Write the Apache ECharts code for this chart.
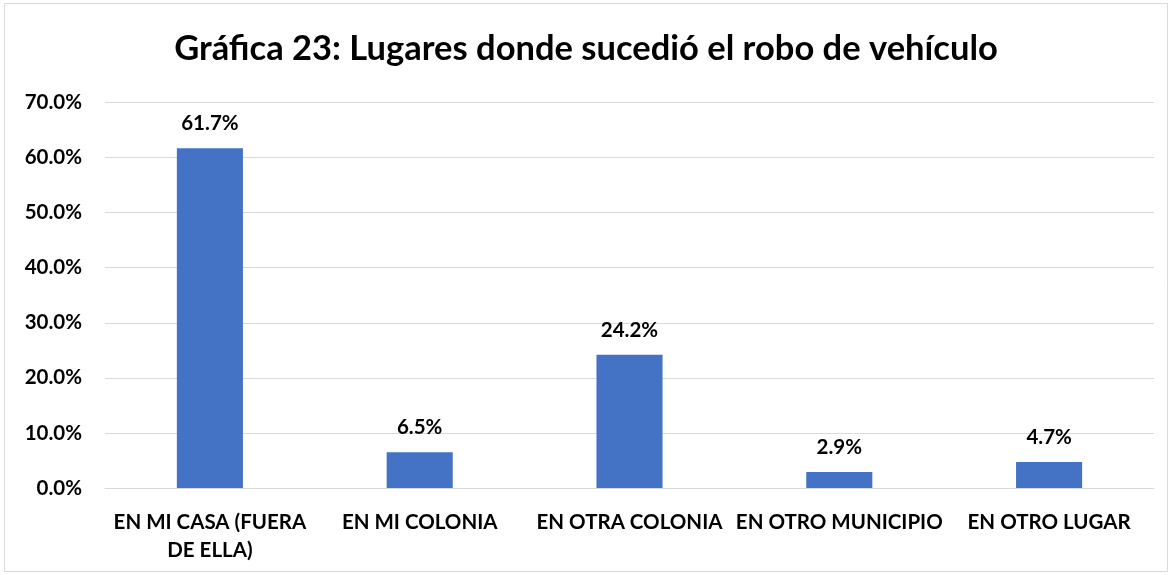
<!DOCTYPE html>
<html>
<head>
<meta charset="utf-8">
<script src="https://cdn.jsdelivr.net/npm/echarts@6/dist/echarts.min.js"></script>
<style>
html,body{margin:0;padding:0;background:#fff;}
#chart{width:1172px;height:575px;}
</style>
</head>
<body>
<div id="chart"></div>
<script>
const title = "Gráfica 23: Lugares donde sucedió el robo de vehículo";
const categories = ["EN MI CASA (FUERA\nDE ELLA)", "EN MI COLONIA", "EN OTRA COLONIA", "EN OTRO MUNICIPIO", "EN OTRO LUGAR"];
const values = [61.7, 6.5, 24.2, 2.9, 4.7];
const yTicks = [0, 10, 20, 30, 40, 50, 60, 70];

const FONT = "Lato, 'Open Sans', sans-serif";
const chart = echarts.init(document.getElementById('chart'), null, {renderer: 'canvas'});
chart.setOption({
  animation: false,
  backgroundColor: '#fff',
  graphic: [{
    type: 'rect',
    shape: {x: 4.5, y: 3.5, width: 1163, height: 568},
    style: {fill: 'none', stroke: '#d9d9d9', lineWidth: 1},
    silent: true
  }],
  title: {
    text: title,
    left: 'center',
    top: 26,
    textStyle: {fontFamily: FONT, fontWeight: 'bold', fontSize: 34.5, color: '#000'}
  },
  grid: {left: 105, right: 18, top: 102.5, bottom: 87, containLabel: false},
  xAxis: {
    type: 'category',
    data: categories,
    axisLine: {show: true, lineStyle: {color: '#d9d9d9', width: 1}},
    axisTick: {show: false},
    axisLabel: {
      interval: 0,
      margin: 20,
      fontFamily: FONT, fontWeight: 'bold', fontSize: 20.5, color: '#000',
      lineHeight: 28
    }
  },
  yAxis: {
    type: 'value',
    min: yTicks[0],
    max: yTicks[yTicks.length - 1],
    interval: 10,
    axisLine: {show: false},
    axisTick: {show: false},
    splitLine: {lineStyle: {color: '#d9d9d9', width: 1}},
    axisLabel: {
      margin: 23,
      fontFamily: FONT, fontWeight: 'bold', fontSize: 20.5, color: '#000',
      formatter: v => v.toFixed(1) + '%'
    }
  },
  series: [{
    type: 'bar',
    data: values,
    barWidth: '31.5%',
    itemStyle: {color: '#4472C4'},
    label: {
      show: true,
      position: 'top',
      distance: 14,
      fontFamily: FONT, fontWeight: 'bold', fontSize: 20.5, color: '#000',
      formatter: p => p.value.toFixed(1) + '%'
    }
  }]
});
</script>
</body>
</html>
